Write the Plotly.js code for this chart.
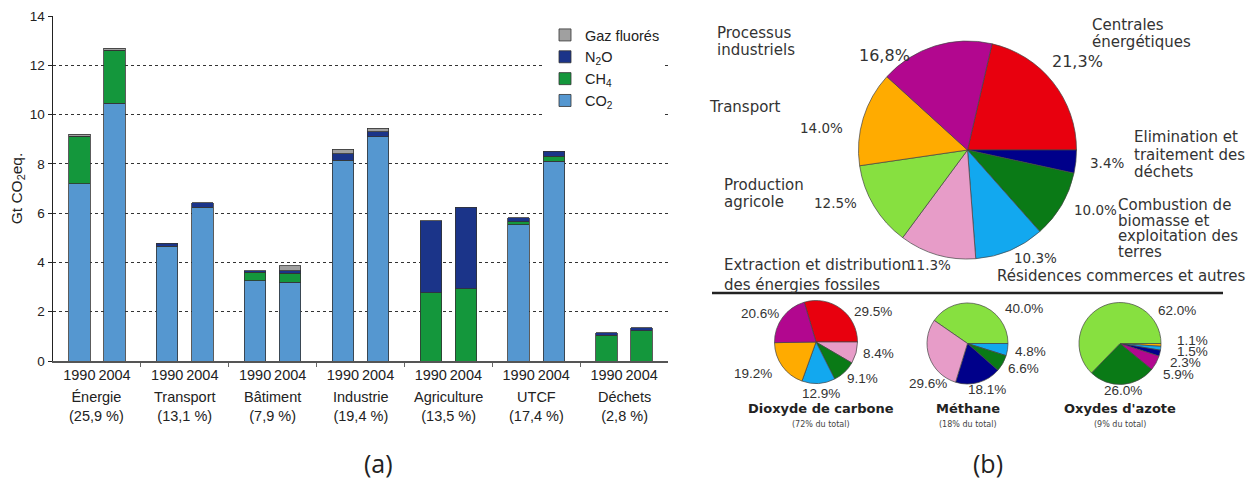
<!DOCTYPE html>
<html><head><meta charset="utf-8">
<script src="https://cdn.plot.ly/plotly-3.0.1.min.js"></script>
<style>html,body{margin:0;padding:0;background:#fff}#chart{width:1255px;height:482px}</style>
</head><body><div id="chart"></div>
<script>
// ---------- DATA: bar chart (a) ----------
const sectors = ["Énergie","Transport","Bâtiment","Industrie","Agriculture","UTCF","Déchets"];
const sectorShares = ["(25,9 %)","(13,1 %)","(7,9 %)","(19,4 %)","(13,5 %)","(17,4 %)","(2,8 %)"];
const years = ["1990","2004"];
// Gt CO2eq per sector, [1990, 2004]
const co2  = [[7.2,10.45],[4.65,6.24],[3.25,3.2],[8.15,9.1],[0,0],[5.53,8.1],[0,0]];
const ch4  = [[1.9,2.15],[0,0],[0.35,0.36],[0,0],[2.77,2.93],[0.12,0.2],[1.05,1.22]];
const n2o  = [[0.03,0.02],[0.12,0.18],[0.07,0.1],[0.27,0.2],[2.92,3.31],[0.17,0.22],[0.1,0.13]];
const fgas = [[0.08,0.08],[0,0],[0,0.2],[0.17,0.15],[0,0],[0,0],[0,0]];
const gasNames = ["CO<sub>2</sub>","CH<sub>4</sub>","N<sub>2</sub>O","Gaz fluorés"];
const yTicks = [0,2,4,6,8,10,12,14];

// ---------- DATA: pies (b) ----------
const bigPieNames = ["Centrales<br>énergétiques","Elimination et<br>traitement des<br>déchets",
  "Combustion de<br>biomasse et<br>exploitation des<br>terres","Résidences commerces et autres",
  "Extraction et distribution<br>des énergies fossiles","Production<br>agricole","Transport",
  "Processus<br>industriels"];
const bigPieValues = [21.3,3.4,10.0,10.3,11.3,12.5,14.0,16.8];
const bigPieText = ["21,3%","3.4%","10.0%","10.3%","11.3%","12.5%","14.0%","16,8%"];

const co2PieLabels = ["Centrales énergétiques","Extraction et distribution","Combustion de biomasse","Résidences commerces et autres","Transport","Processus industriels"];
const co2PieValues = [29.5,8.4,9.1,12.9,19.2,20.6];
const ch4PieLabels = ["Production agricole","Résidences commerces et autres","Combustion de biomasse","Elimination et traitement des déchets","Extraction et distribution"];
const ch4PieValues = [40.0,4.8,6.6,18.1,29.6];
const noxPieLabels = ["Transport","Résidences commerces et autres","Elimination et traitement des déchets","Processus industriels","Combustion de biomasse","Production agricole"];
const noxPieValues = [1.1,1.5,2.3,5.9,26.0,62.0];
const smallPieTitles = ["Dioxyde de carbone","Méthane","Oxydes d'azote"];
const smallPieNotes = ["(72% du total)","(18% du total)","(9% du total)"];

// ---------- STYLE ----------
const W = 1255, H = 482;
const px = x => x / W, py = y => 1 - y / H;
const gasColors = ["#5597d0","#14973c","#1b3489","#a0a0a0"];
const sliceColor = {
  "Centrales énergétiques":"#e8000e","Elimination et traitement des déchets":"#00008a",
  "Combustion de biomasse":"#0a7a16","Résidences commerces et autres":"#12a8ef",
  "Extraction et distribution":"#e79cc8","Production agricole":"#87e040",
  "Transport":"#ffab00","Processus industriels":"#b2078f"
};
const bigPieLabels = bigPieNames.map(n => {
  const p = n.replace(/<br>/g,' ');
  if (p.startsWith('Extraction')) return 'Extraction et distribution';
  if (p.startsWith('Combustion')) return 'Combustion de biomasse';
  if (p.startsWith('Elimination')) return 'Elimination et traitement des déchets';
  return p;
});

const offs = [-0.2, 0.2];
const barX = [], barTick = [];
sectors.forEach((s,i) => years.forEach((y,j) => { barX.push(i + 0.5 + offs[j]); barTick.push(y); }));
const flat = arr => arr.flat().map(v => v === 0 ? null : v);

const traces = [co2, ch4, n2o, fgas].map((arr,k) => ({
  type:'bar', x: barX, y: flat(arr), name: gasNames[k], width: 0.245,
  marker:{color: gasColors[k], line:{color:'#333', width:0.8}},
  hoverinfo:'skip'
}));

function pieDomain(cx, cy, d) {
  return {x:[px(cx-d/2), px(cx+d/2)], y:[py(cy+d/2), py(cy-d/2)]};
}
function pie(labels, values, dom, rot) {
  return {type:'pie', labels: labels, values: values, sort:false, direction:'clockwise',
    rotation: rot, textinfo:'none', hoverinfo:'skip', showlegend:false, domain: dom,
    marker:{colors: labels.map(l => sliceColor[l]), line:{color:'#444', width:0.7}}};
}
const rotFirst = (vals) => 90 - 360 * vals[0] / vals.reduce((a,b)=>a+b,0);
traces.push(pie(bigPieLabels, bigPieValues, pieDomain(967.5,150,218), rotFirst(bigPieValues)));
traces.push(pie(co2PieLabels, co2PieValues, pieDomain(816,342,83), rotFirst(co2PieValues)));
traces.push(pie(ch4PieLabels, ch4PieValues, pieDomain(967.5,343.5,81), rotFirst(ch4PieValues)));
traces.push(pie(noxPieLabels, noxPieValues, pieDomain(1120,343.5,82), 90));

const ann = [];
// group labels under x axis
sectors.forEach((s,i) => ann.push({xref:'x', yref:'paper', x: i+0.5, y: py(387), yanchor:'top',
  text: s + '<br>' + sectorShares[i], showarrow:false, font:{size:14.5, color:'#222'}}));

// big pie names: [left x, first line center y, line gap]
const bigNamePos = [[1090,25,17],[1132,137,17.5],[1116,205,15.7],[995,276,17],[722,265,20],[722,185,17],[707,107,17],[715,33,17]];
const pieFont = "DejaVu Sans, Verdana, sans-serif";
bigPieNames.forEach((n,i) => {
  const [x0,y0,g] = bigNamePos[i];
  n.split('<br>').forEach((line,k) => ann.push({xref:'paper', yref:'paper', x: px(x0), y: py(y0 + k*g),
    xanchor:'left', yanchor:'middle', text: line, showarrow:false,
    font:{family: pieFont, size:15, color:'#333'}}));
});
const bigPctPos = [[1077,61,16],[1107,163,13.5],[1095,210,13.5],[1035,258,13.5],[929,265,13.5],[835,203,13.5],[821,128,13.5],[884,55,16]];
bigPieText.forEach((t,i) => {
  const [x0,y0,fs] = bigPctPos[i];
  ann.push({xref:'paper', yref:'paper', x: px(x0), y: py(y0), xanchor:'center', yanchor:'middle',
    text: t, showarrow:false, font:{family: pieFont, size: fs, color:'#333'}});
});
// small pie percentages
const fmt = v => v.toFixed(1) + '%';
const co2PctPos = [[873,311],[878,353],[862,378],[821,393],[753,373],[760,313]];
const ch4PctPos = [[1024,308],[1030,351],[1023,368],[987,389],[928,383]];
const noxPctPos = [[1192,340],[1192,351],[1185,362],[1178,374],[1123,390],[1177,310]];
[[co2PieValues,co2PctPos],[ch4PieValues,ch4PctPos],[noxPieValues,noxPctPos]].forEach(([vals,pos]) => {
  vals.forEach((v,i) => ann.push({xref:'paper', yref:'paper', x: px(pos[i][0]), y: py(pos[i][1]),
    xanchor:'center', yanchor:'middle', text: fmt(v), showarrow:false, borderpad:0,
    font:{family:'Liberation Sans, Arial, sans-serif', size:13.5, color:'#333'}}));
});
const smallCx = [821, 968, 1120];
smallPieTitles.forEach((t,i) => {
  ann.push({xref:'paper', yref:'paper', x: px(smallCx[i]), y: py(408), xanchor:'center', yanchor:'middle',
    text: '<b>' + t + '</b>', showarrow:false, font:{family: pieFont, size:13, color:'#222'}});
  ann.push({xref:'paper', yref:'paper', x: px(smallCx[i]), y: py(424), xanchor:'center', yanchor:'middle',
    text: smallPieNotes[i], showarrow:false, font:{family: pieFont, size:8, color:'#444'}});
});
// panel letters
ann.push({xref:'paper', yref:'paper', x: px(378), y: py(463), xanchor:'center', yanchor:'middle',
  text:'(a)', showarrow:false, font:{family:'Open Sans, sans-serif', size:25, color:'#222'}});
ann.push({xref:'paper', yref:'paper', x: px(988), y: py(463), xanchor:'center', yanchor:'middle',
  text:'(b)', showarrow:false, font:{family:'Open Sans, sans-serif', size:25, color:'#222'}});

const layout = {
  width: W, height: H, margin:{l:0,r:0,t:0,b:0}, paper_bgcolor:'#fff', plot_bgcolor:'#fff',
  font:{family:'Liberation Sans, Arial, sans-serif', color:'#222'},
  barmode:'stack', showlegend:true,
  legend:{x: px(545), y: py(19), xanchor:'left', yanchor:'top', bgcolor:'#fff', borderwidth:0,
    traceorder:'reversed', font:{size:14.5, color:'#222'}},
  xaxis:{domain:[px(53), px(668)], range:[0,7], automargin:false, showgrid:false, zeroline:false,
    showline:true, linecolor:'#555', linewidth:1.5, tickmode:'array', tickvals: barX, ticktext: barTick,
    ticks:'', tickangle:0, tickfont:{size:14.5, color:'#222'},
    minor:{tickmode:'array', tickvals:[1,2,3,4,5,6], ticks:'outside', ticklen:4, tickcolor:'#666', showgrid:false}},
  yaxis:{domain:[py(361), py(16)], range:[0,14], automargin:false, tickmode:'array', tickvals: yTicks,
    showgrid:true, griddash:'dot', gridcolor:'#333', gridwidth:1, zeroline:false,
    showline:true, linecolor:'#222', linewidth:1.5, ticks:'outside', ticklen:4, tickcolor:'#222',
    tickfont:{size:13.5, color:'#222'},
    title:{text:'Gt CO<sub>2</sub>eq.', font:{size:15.5, color:'#222'}, standoff:3}},
  shapes:[{type:'line', xref:'paper', yref:'paper', x0: px(712), x1: px(1223), y0: py(293), y1: py(293),
    line:{color:'#222', width:2.5}}],
  annotations: ann
};
Plotly.newPlot('chart', traces, layout, {staticPlot:true, displayModeBar:false});
</script></body></html>
